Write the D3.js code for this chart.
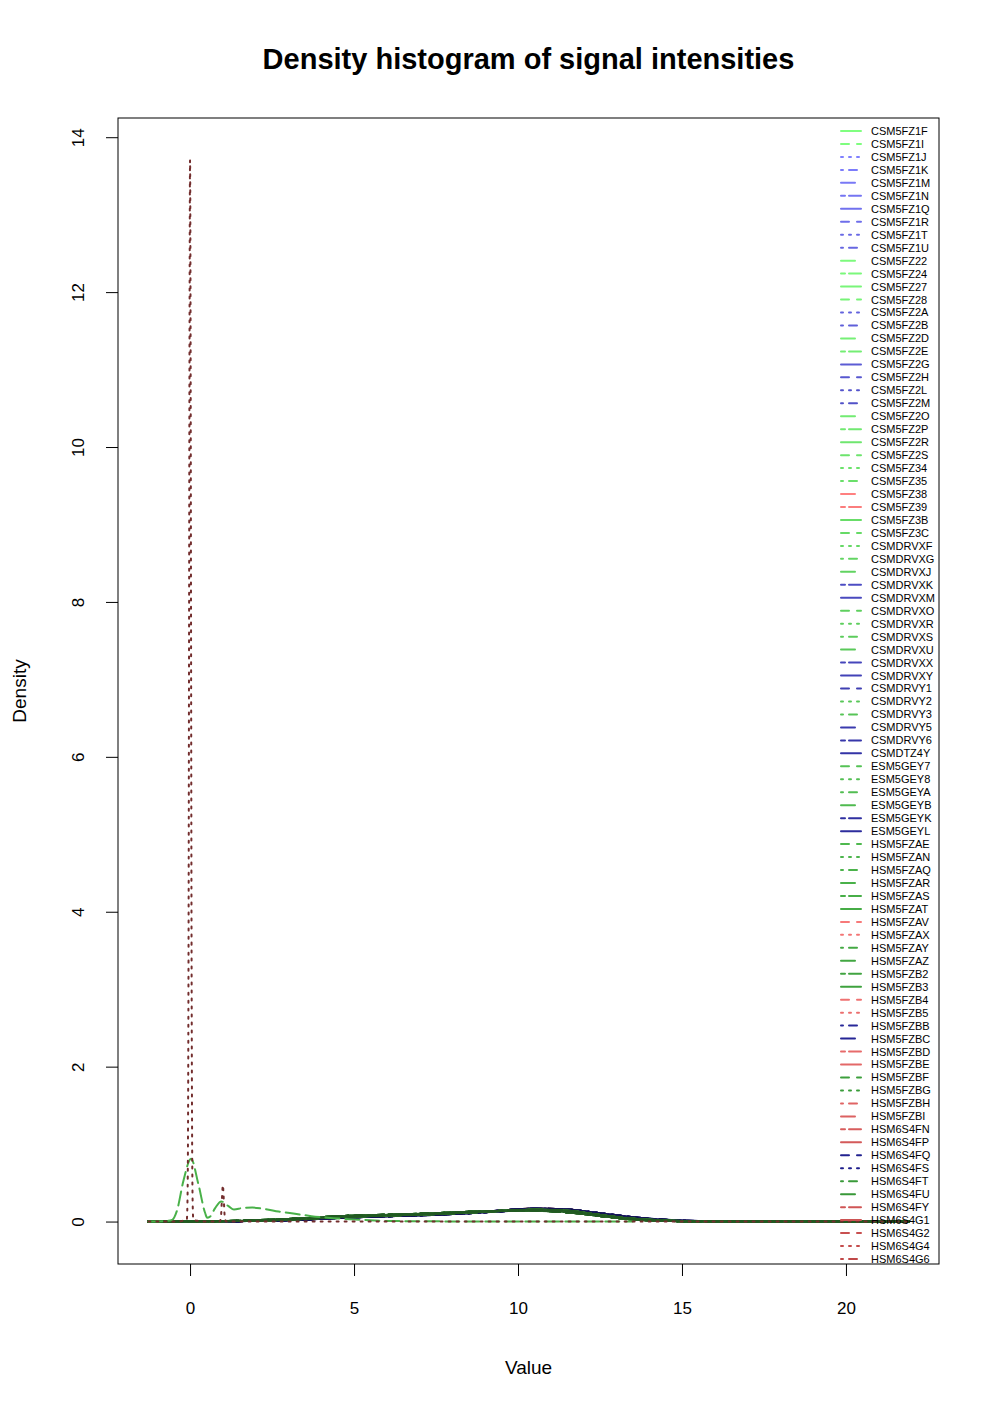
<!DOCTYPE html>
<html lang="en">
<head>
  <meta charset="utf-8">
  <title>Density histogram</title>
  <script type="text/javascript" src="https://d3js.org/d3.v7.min.js"></script>
  <style type="text/css">
    body { margin: 0; background: #fff; }
    svg text { font-family: "Liberation Sans", Arial, sans-serif; fill: #000; }
    .axis path { display: none; }
    .axis line { stroke: #000; stroke-width: 1; }
    .axis text { font-size: 17px; }
    .curves path { fill: none; stroke-width: 2; stroke-linecap: round; stroke-linejoin: round; }
    .legend line { stroke-linecap: round; }
  </style>
</head>
<body>
  <script type="text/javascript">
  // sample names, in legend order
  var sampleNames = [
    "CSM5FZ1F","CSM5FZ1I","CSM5FZ1J","CSM5FZ1K","CSM5FZ1M","CSM5FZ1N","CSM5FZ1Q","CSM5FZ1R",
    "CSM5FZ1T","CSM5FZ1U","CSM5FZ22","CSM5FZ24","CSM5FZ27","CSM5FZ28","CSM5FZ2A","CSM5FZ2B",
    "CSM5FZ2D","CSM5FZ2E","CSM5FZ2G","CSM5FZ2H","CSM5FZ2L","CSM5FZ2M","CSM5FZ2O","CSM5FZ2P",
    "CSM5FZ2R","CSM5FZ2S","CSM5FZ34","CSM5FZ35","CSM5FZ38","CSM5FZ39","CSM5FZ3B","CSM5FZ3C",
    "CSMDRVXF","CSMDRVXG","CSMDRVXJ","CSMDRVXK","CSMDRVXM","CSMDRVXO","CSMDRVXR","CSMDRVXS",
    "CSMDRVXU","CSMDRVXX","CSMDRVXY","CSMDRVY1","CSMDRVY2","CSMDRVY3","CSMDRVY5","CSMDRVY6",
    "CSMDTZ4Y","ESM5GEY7","ESM5GEY8","ESM5GEYA","ESM5GEYB","ESM5GEYK","ESM5GEYL","HSM5FZAE",
    "HSM5FZAN","HSM5FZAQ","HSM5FZAR","HSM5FZAS","HSM5FZAT","HSM5FZAV","HSM5FZAX","HSM5FZAY",
    "HSM5FZAZ","HSM5FZB2","HSM5FZB3","HSM5FZB4","HSM5FZB5","HSM5FZBB","HSM5FZBC","HSM5FZBD",
    "HSM5FZBE","HSM5FZBF","HSM5FZBG","HSM5FZBH","HSM5FZBI","HSM6S4FN","HSM6S4FP","HSM6S4FQ",
    "HSM6S4FS","HSM6S4FT","HSM6S4FU","HSM6S4FY","HSM6S4G1","HSM6S4G2","HSM6S4G4","HSM6S4G6"
  ];

  // group of each sample (g = green, b = blue, r = red)
  var sampleGroups = (
    "g g b b b b b b b b g g g g b b g g b b b b g g g g g g r r g g " +
    "g g g b b g g g g b b b g g b b b g g g g b b g g g g g g r r g " +
    "g g g r r b b r r g g r r r r b b g g r r r r r"
  ).split(" ");

  // which density curve each sample follows
  var sampleCurves = (
    "A C D B D B D B D B A C A C D B A C D B D B A C A C A C B A A C " +
    "A C A D B C A C A D B D C A B D B C A C A D B C A C E A C B A C " +
    "A C A B A D B B A C A B A B A D D C A B A B S A"
  ).split(" ");

  // samples whose curve keeps the light legend colour
  var plainSamples = ["HSM5FZAR"];

  // common x grid for the bulk curves
  var gridX = [-1.27, -0.5, 0.5, 1.5, 2.5, 3.5, 4.5, 5.5, 6.5, 7.5, 8.5, 9.5, 10.5, 11.5, 12.5, 13.5, 14.5, 15.5, 17, 19, 21.91];
  var bulkA = [0, 0.001, 0.003, 0.008, 0.018, 0.035, 0.058, 0.072, 0.084, 0.098, 0.118, 0.138, 0.152, 0.138, 0.085, 0.035, 0.012, 0.003, 0.001, 0, 0];
  var bulkB = [0, 0.001, 0.002, 0.005, 0.013, 0.027, 0.048, 0.064, 0.077, 0.093, 0.114, 0.142, 0.166, 0.156, 0.095, 0.040, 0.013, 0.003, 0.001, 0, 0];
  var bulkC = [0, 0.001, 0.004, 0.011, 0.024, 0.044, 0.068, 0.082, 0.094, 0.108, 0.125, 0.137, 0.140, 0.120, 0.072, 0.028, 0.009, 0.002, 0.001, 0, 0];
  var bulkD = [0, 0.001, 0.002, 0.005, 0.012, 0.026, 0.046, 0.062, 0.074, 0.088, 0.108, 0.132, 0.152, 0.150, 0.108, 0.056, 0.022, 0.006, 0.001, 0, 0];

  // the sample with peaks at 0 and 1 (HSM5FZAR)
  var earlyX = [-1.27, -0.8, -0.55, -0.4, -0.2, 0.03, 0.25, 0.46, 0.52, 0.6, 0.76, 0.95, 1.17, 1.34, 1.6, 1.9, 2.3, 2.7, 3.2, 3.7, 4.2, 4.7, 5.3, 6, 7, 8, 10, 12, 13.5];
  var earlyY = [0, 0.005, 0.02, 0.14, 0.53, 0.81, 0.49, 0.11, 0.05, 0.06, 0.17, 0.26, 0.2, 0.155, 0.175, 0.18, 0.16, 0.13, 0.10, 0.07, 0.05, 0.035, 0.02, 0.008, 0.004, 0.002, 0.002, 0.001, 0];

  // the sample that is almost all zeros (HSM6S4G4)
  var spikeX = [-1.27, -0.5, -0.1, -0.08, -0.06, -0.045, -0.03, -0.015, 0, 0.015, 0.03, 0.045, 0.06, 0.08, 0.1, 0.5, 0.9, 0.94, 0.97, 1.0, 1.03, 1.06, 1.1, 1.5, 5, 21.91];
  var spikeY = [0, 0, 0.02, 0.23, 1.38, 3.77, 7.7, 11.7, 13.7, 11.7, 7.7, 3.77, 1.38, 0.23, 0.02, 0, 0, 0.05, 0.27, 0.47, 0.27, 0.05, 0, 0, 0, 0];

  var xTicks = [0, 5, 10, 15, 20];
  var yTicks = [0, 2, 4, 6, 8, 10, 12, 14];

  var curveTable = {
    A: [gridX, bulkA], B: [gridX, bulkB], C: [gridX, bulkC], D: [gridX, bulkD],
    E: [earlyX, earlyY], S: [spikeX, spikeY]
  };

  var w = 1000, h = 1414;
  var boxL = 118, boxR = 939, boxT = 118, boxB = 1264;

  // R style line types at lwd 2
  var dashes = ["none", "8,8", "2,6", "2,6,8,6", "14,6", "4,4,12,4"];
  var groupRamp = {
    g: ["#80ff80", "#389838"],
    b: ["#8080ff", "#1e1e8c"],
    r: ["#ff8080", "#c04848"]
  };
  var drawOrder = { r: 0, b: 1, g: 2 };

  var series = sampleNames.map(function(name, i) {
    var c = curveTable[sampleCurves[i]];
    return {
      name: name,
      group: sampleGroups[i],
      curve: sampleCurves[i],
      dash: dashes[i % 6],
      points: c[0].map(function(x, k) { return [x, c[1][k]]; })
    };
  });

  // colour darkens along each group
  ["g", "b", "r"].forEach(function(g) {
    var members = series.filter(function(s) { return s.group == g; });
    var ramp = d3.interpolateRgb(groupRamp[g][0], groupRamp[g][1]);
    members.forEach(function(s, k) {
      s.color = ramp(k / (members.length - 1));
      s.lineColor = plainSamples.indexOf(s.name) >= 0 ? s.color : d3.color(s.color).darker(1.5).formatHex();
    });
  });

  var allX = [].concat(gridX, earlyX, spikeX);
  var allY = [].concat(bulkA, bulkB, bulkC, bulkD, earlyY, spikeY);
  var xr = d3.extent(allX), yr = d3.extent(allY);
  var xPad = (xr[1] - xr[0]) * 0.04, yPad = (yr[1] - yr[0]) * 0.04;

  var xScale = d3.scaleLinear().domain([xr[0] - xPad, xr[1] + xPad]).range([boxL, boxR]);
  var yScale = d3.scaleLinear().domain([yr[0] - yPad, yr[1] + yPad]).range([boxB, boxT]);

  var svg = d3.select("body").append("svg")
    .attr("width", w)
    .attr("height", h);

  svg.append("rect").attr("width", w).attr("height", h).attr("fill", "#fff");

  var line = d3.line()
    .x(function(d) { return xScale(d[0]); })
    .y(function(d) { return yScale(d[1]); })
    .curve(d3.curveMonotoneX);

  // bulk curves by group, the two odd samples on top
  var ordered = series.slice().sort(function(a, b) {
    var pa = (a.curve == "E" || a.curve == "S") ? 3 : drawOrder[a.group];
    var pb = (b.curve == "E" || b.curve == "S") ? 3 : drawOrder[b.group];
    return pa - pb;
  });

  svg.append("g").attr("class", "curves")
    .selectAll("path")
    .data(ordered)
    .enter().append("path")
      .attr("d", function(d) { return line(d.points); })
      .attr("stroke", function(d) { return d.lineColor; })
      .attr("stroke-dasharray", function(d) { return d.dash; });

  // frame
  svg.append("rect")
    .attr("x", boxL).attr("y", boxT)
    .attr("width", boxR - boxL).attr("height", boxB - boxT)
    .attr("fill", "none").attr("stroke", "#000").attr("stroke-width", 1);

  // axes
  svg.append("g")
    .attr("class", "axis")
    .attr("transform", "translate(0," + boxB + ")")
    .call(d3.axisBottom(xScale).tickValues(xTicks).tickSize(12).tickPadding(26).tickFormat(d3.format("d")));

  var yAxis = svg.append("g")
    .attr("class", "axis")
    .attr("transform", "translate(" + boxL + ",0)")
    .call(d3.axisLeft(yScale).tickValues(yTicks).tickSize(12).tickFormat(d3.format("d")));

  yAxis.selectAll("text")
    .attr("x", null).attr("dy", null)
    .attr("text-anchor", "middle")
    .attr("transform", "translate(-34,0) rotate(-90)");

  // titles
  svg.append("text")
    .attr("x", (boxL + boxR) / 2).attr("y", 69)
    .attr("text-anchor", "middle")
    .style("font-size", "29px").style("font-weight", "bold")
    .text("Density histogram of signal intensities");

  svg.append("text")
    .attr("x", (boxL + boxR) / 2).attr("y", 1374)
    .attr("text-anchor", "middle")
    .style("font-size", "19px")
    .text("Value");

  svg.append("text")
    .attr("transform", "translate(26," + ((boxT + boxB) / 2) + ") rotate(-90)")
    .attr("text-anchor", "middle")
    .style("font-size", "19px")
    .text("Density");

  // legend
  var legendY = d3.scaleLinear().domain([0, series.length - 1]).range([131, 1259]);
  var legend = svg.append("g").attr("class", "legend");

  var rows = legend.selectAll("g")
    .data(series)
    .enter().append("g")
      .attr("transform", function(d, i) { return "translate(0," + legendY(i) + ")"; });

  rows.append("line")
    .attr("x1", 841).attr("x2", 861)
    .attr("stroke-width", 2)
    .attr("stroke", function(d) { return d.color; })
    .attr("stroke-dasharray", function(d) { return d.dash; });

  rows.append("text")
    .attr("x", 871).attr("dy", "0.36em")
    .style("font-size", "11px")
    .text(function(d) { return d.name; });
  </script>
</body>
</html>
